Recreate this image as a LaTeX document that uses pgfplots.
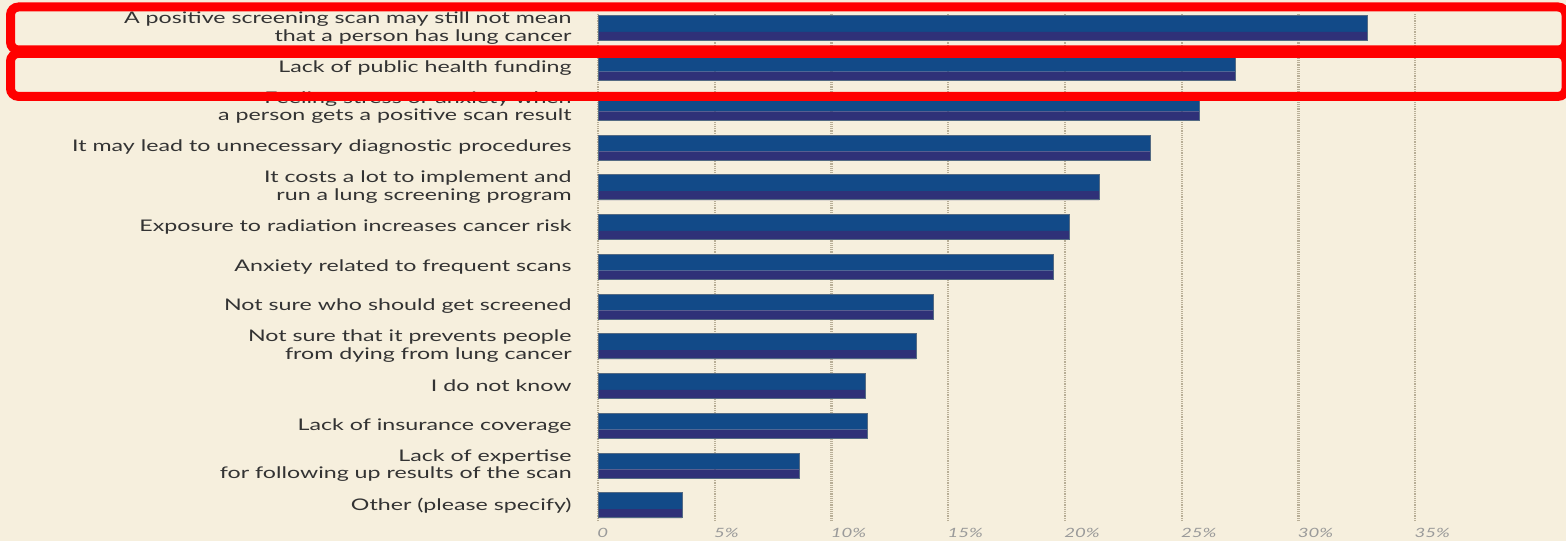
\documentclass[border=0pt]{standalone}
\usepackage{fontspec}
\setmainfont[FakeStretch=1.45]{Lato}
\usepackage{pgfplots}
\usepackage{pgfplotstable}
\pgfplotsset{compat=1.18}
\definecolor{bg}{HTML}{F6EFDD}
\definecolor{barA}{HTML}{124A88}
\definecolor{barB}{HTML}{2F3178}
\definecolor{txt}{HTML}{333333}
\definecolor{tick}{HTML}{9A9A9A}
\definecolor{gridc}{HTML}{B8AE96}
\pgfplotstableread{
y val
0 3.60
1 8.61
2 11.52
3 11.43
4 13.62
5 14.35
6 19.49
7 20.17
8 21.46
9 23.64
10 25.74
11 27.28
12 32.93
}\data
\begin{document}
\begin{tikzpicture}
\fill[bg] (0,0) rectangle (783pt,270.5pt);
\begin{axis}[
  at={(299pt,10pt)}, anchor=south west,
  scale only axis, width=484pt, height=253.5pt,
  xmin=0, xmax=41.46, ymin=-0.397, ymax=12.357,
  axis line style={draw=none},
  major tick length=0pt,
  xtick={0,5,...,35},
  xticklabels={0,5\%,10\%,15\%,20\%,25\%,30\%,35\%},
  xticklabel style={anchor=north west, inner sep=0pt, xshift=-0.5pt, yshift=-3.2pt, font=\fontsize{6.4}{7}\selectfont\itshape, text=tick},
  xmajorgrids,
  grid style={gridc, line width=1.1pt, dash pattern=on 0.6pt off 0.5pt},
  ytick={0,...,12},
  yticklabels={
    Other (please specify),
    Lack of expertise\\for following up results of the scan,
    Lack of insurance coverage,
    I do not know,
    Not sure that it prevents people\\from dying from lung cancer,
    Not sure who should get screened,
    Anxiety related to frequent scans,
    Exposure to radiation increases cancer risk,
    It costs a lot to implement and\\run a lung screening program,
    It may lead to unnecessary diagnostic procedures,
    Feeling stress or anxiety when\\a person gets a positive scan result,
    Lack of public health funding,
    A positive screening scan may still not mean\\that a person has lung cancer},
  yticklabel style={align=right, anchor=east, inner sep=0pt, xshift=-13pt, font=\fontsize{8.0}{8.8}\selectfont, text=txt},
  xbar, 
]
\addplot[fill=barA, draw=none, bar width=8pt, bar shift=2.1pt] table[x=val,y=y]{\data};
\addplot[fill=barB, draw=none, bar width=4.5pt, bar shift=-4.15pt] table[x=val,y=y]{\data};
\addplot[fill=none, draw=barA!40!gray, line width=0.3pt, bar width=12.5pt, bar shift=0pt] table[x=val,y=y]{\data};
\end{axis}
\draw[red, line width=4.5pt, rounded corners=4pt] (5.25pt,267pt) rectangle (783pt,245.5pt);
\draw[red, line width=4.5pt, rounded corners=4pt] (5.25pt,243.8pt) rectangle (783pt,222.3pt);
\pgfresetboundingbox
\path (0,0) rectangle (783pt,270.5pt);
\end{tikzpicture}
\end{document}
